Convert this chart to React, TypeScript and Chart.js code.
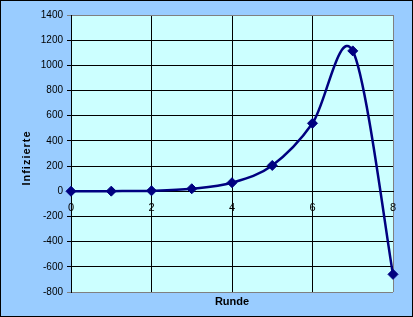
import React, { useEffect, useRef } from "react";
import { Chart, registerables } from "chart.js";

Chart.register(...registerables);

const rounds = [0, 1, 2, 3, 4, 5, 6, 7, 8];
const infected = [0, 1, 4, 20, 68, 205, 540, 1115, -660];
const xTitle = "Runde";
const yTitle = "Infizierte";

const OUTER_BG = "#99CCFF";
const PLOT_BG = "#CCFFFF";
const LINE = "#000080";

// Excel-like smoothing: uniform Catmull-Rom control points on the library's own point elements
const smooth = {
  id: "smooth",
  beforeDatasetsDraw(chart: any) {
    chart.data.datasets.forEach((_ds: any, di: number) => {
      const meta = chart.getDatasetMeta(di);
      const line = meta.dataset;
      if (line && typeof line.updateControlPoints === "function") {
        line.updateControlPoints(chart.chartArea, meta.indexAxis);
      }
      const pts = meta.data;
      const n = pts.length;
      for (let i = 0; i < n; i++) {
        const p = pts[i];
        const prev = pts[Math.max(i - 1, 0)];
        const next = pts[Math.min(i + 1, n - 1)];
        const dx = (next.x - prev.x) / 6;
        const dy = (next.y - prev.y) / 6;
        p.cp1x = p.x - dx;
        p.cp1y = p.y - dy;
        p.cp2x = p.x + dx;
        p.cp2y = p.y + dy;
      }
    });
  },
};

const decor = {
  id: "decor",
  beforeDraw(chart: any) {
    const { ctx, width, height, chartArea } = chart;
    ctx.save();
    ctx.fillStyle = OUTER_BG;
    ctx.fillRect(0, 0, width, height);
    ctx.fillStyle = PLOT_BG;
    ctx.fillRect(chartArea.left, chartArea.top, chartArea.right - chartArea.left, chartArea.bottom - chartArea.top);
    ctx.restore();
  },
  afterDraw(chart: any) {
    const { ctx, width, height, chartArea } = chart;
    ctx.save();
    ctx.strokeStyle = "#000000";
    ctx.lineWidth = 1;
    ctx.strokeRect(0.5, 0.5, width - 1, height - 1);
    ctx.fillStyle = "#000000";
    ctx.font = "bold 11px 'Liberation Sans', Arial, sans-serif";
    ctx.textAlign = "center";
    ctx.textBaseline = "middle";
    ctx.fillText(xTitle, (chartArea.left + chartArea.right) / 2, 302);
    ctx.translate(27, 158);
    ctx.rotate(-Math.PI / 2);
    (ctx as any).letterSpacing = "1px";
    ctx.fillText(yTitle, 0, 0);
    ctx.restore();
  },
};

export default function App() {
  const ref = useRef<HTMLCanvasElement | null>(null);
  useEffect(() => {
    if (!ref.current) return;
    const points = rounds.map((r, i) => ({ x: r, y: infected[i] }));
    const chart = new Chart(ref.current, {
      type: "line",
      data: {
        datasets: [
          {
            data: points,
            borderColor: LINE,
            backgroundColor: LINE,
            borderWidth: 2.5,
            tension: 0.4,
            pointStyle: "rectRot",
            pointRadius: 5,
            pointBorderWidth: 1,
            pointBorderColor: LINE,
            pointBackgroundColor: LINE,
            clip: false as any,
          },
        ],
      },
      options: {
        animation: false,
        responsive: false,
        devicePixelRatio: 1,
        layout: { padding: { left: 0, top: 15, right: 20, bottom: 25 } },
        plugins: { legend: { display: false }, tooltip: { enabled: false } },
        scales: {
          x: {
            type: "linear",
            position: { y: 0 } as any,
            min: 0,
            max: 8,
            ticks: {
              stepSize: 2,
              color: "#000",
              padding: 6,
              font: { family: "'Liberation Sans', Arial, sans-serif", size: 11 },
              callback: (v: any) => String(v),
            },
            grid: {
              color: (c: any) => (c.tick && c.tick.value === 8 ? "#808080" : "#000000"),
              tickLength: 4,
              lineWidth: 1,
            },
            border: { color: "#000000", width: 1 },
            afterFit: (s: any) => {
              s.height = 0;
            },
          },
          y: {
            type: "linear",
            min: -800,
            max: 1400,
            ticks: {
              stepSize: 200,
              color: "#000",
              padding: 4,
              font: { family: "'Liberation Sans', Arial, sans-serif", size: 10 },
              callback: (v: any) => String(v),
            },
            grid: {
              color: (c: any) =>
                c.tick && (c.tick.value === 1400 || c.tick.value === -800) ? "#808080" : "#000000",
              tickLength: 4,
              lineWidth: 1,
            },
            border: { color: "#000000", width: 1 },
            afterFit: (s: any) => {
              s.width = 71;
            },
          },
        },
      },
      plugins: [smooth, decor],
    });
    return () => chart.destroy();
  }, []);
  return (
    <div style={{ position: "fixed", left: 0, top: 0, width: 413, height: 317 }}>
      <canvas ref={ref} width={413} height={317} />
    </div>
  );
}
